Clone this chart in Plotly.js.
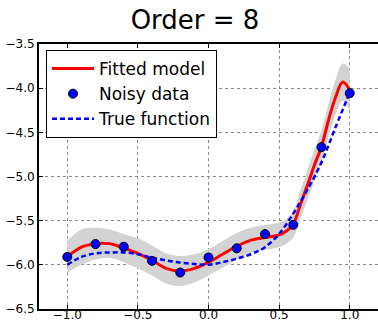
<!DOCTYPE html>
<html>
<head>
<meta charset="utf-8">
<script src="https://cdn.plot.ly/plotly-3.0.1.min.js"></script>
<style>html,body{margin:0;padding:0;background:#fff;}#chart{width:378px;height:324px;}</style>
</head>
<body>
<div id="chart"></div>
<script>
// Fitted model (order 8)
const fitX = [-1.0,-0.9,-0.8,-0.7,-0.6,-0.5,-0.4,-0.3,-0.2,-0.1,0.0,0.1,0.2,0.3,0.4,0.5,0.55,0.6,0.65,0.7,0.75,0.8,0.85,0.9,0.95,1.0];
const fitY = [-5.91,-5.80,-5.76,-5.76,-5.81,-5.87,-5.95,-6.04,-6.07,-6.04,-5.97,-5.88,-5.79,-5.72,-5.69,-5.66,-5.62,-5.54,-5.32,-5.10,-4.87,-4.66,-4.36,-4.10,-3.93,-4.02];
const bandHalf = [0.18,0.20,0.18,0.16,0.16,0.17,0.17,0.17,0.17,0.16,0.15,0.15,0.15,0.14,0.14,0.14,0.14,0.15,0.16,0.17,0.18,0.18,0.19,0.20,0.21,0.24];

// Noisy data
const noisyX = [-1.0,-0.8,-0.6,-0.4,-0.2,0.0,0.2,0.4,0.6,0.8,1.0];
const noisyY = [-5.91,-5.765,-5.795,-5.955,-6.087,-5.917,-5.813,-5.652,-5.547,-4.668,-4.057];

// True function
const trueX = [-1.0,-0.9,-0.8,-0.7,-0.6,-0.5,-0.4,-0.3,-0.2,-0.1,0.0,0.1,0.2,0.3,0.4,0.5,0.6,0.7,0.8,0.9,1.0];
const trueY = [-6.00,-5.91,-5.87,-5.86,-5.86,-5.88,-5.92,-5.95,-5.975,-5.99,-6.00,-5.97,-5.93,-5.88,-5.80,-5.65,-5.42,-5.15,-4.84,-4.44,-4.05];

// Axis ticks
const xTicks = [-1.0,-0.5,0.0,0.5,1.0];
const yTicks = [-6.5,-6.0,-5.5,-5.0,-4.5,-4.0,-3.5];

const titleText = 'Order = 8';

const bandUpper = fitY.map((v,i)=>v+bandHalf[i]);
const bandLower = fitY.map((v,i)=>v-bandHalf[i]);

const FONT = 'DejaVu Sans, sans-serif';

const traces = [
  {x: fitX, y: bandUpper, mode:'lines', line:{width:0, shape:'spline', color:'rgba(0,0,0,0)'}, showlegend:false, hoverinfo:'skip'},
  {x: fitX, y: bandLower, mode:'lines', line:{width:0, shape:'spline', color:'rgba(0,0,0,0)'}, fill:'tonexty', fillcolor:'#d3d3d3', showlegend:false, hoverinfo:'skip'},
  {x: fitX, y: fitY, mode:'lines', name:'Fitted model', line:{color:'#ff0000', width:3, shape:'spline'}, legendrank:1},
  {x: trueX, y: trueY, mode:'lines', name:'True function', line:{color:'#0000ff', width:2.5, dash:'5px,3px', shape:'spline'}, legendrank:3},
  {x: noisyX, y: noisyY, mode:'markers', name:'Noisy data', marker:{color:'#0000ff', size:9, line:{color:'#000', width:1}}, legendrank:2}
];

const axisCommon = {
  showgrid:true, gridcolor:'#8a8a8a', griddash:'dot', gridwidth:1,
  zeroline:false, showline:true, linecolor:'#000', linewidth:2,
  ticks:'inside', ticklen:4, tickcolor:'#000', tickwidth:1,
  tickfont:{family:FONT, size:12, color:'#000'}, automargin:false
};

const layout = {
  width:378, height:324,
  margin:{l:39, r:0, t:44, b:15, pad:0},
  paper_bgcolor:'#fff', plot_bgcolor:'#fff',
  title:{text:titleText, font:{family:FONT, size:26, color:'#000'}, x:195/378, xref:'container', xanchor:'center', y:1-20/324, yref:'container', yanchor:'middle'},
  xaxis:Object.assign({}, axisCommon, {range:[-1.2,1.2], tickvals:xTicks, tickformat:'.1f', mirror:'ticks', ticklabelstandoff:-6}),
  yaxis:Object.assign({}, axisCommon, {range:[-6.5,-3.5], tickvals:yTicks, tickformat:'.1f', mirror:false}),
  showlegend:true,
  legend:{x:7/339, y:(308.7-50)/264.7, xanchor:'left', yanchor:'top', bgcolor:'#fff', bordercolor:'#000', borderwidth:1, font:{family:FONT, size:17, color:'#000'}, traceorder:'normal', itemwidth:42}
};

Plotly.newPlot('chart', traces, layout, {displayModeBar:false, staticPlot:true});
</script>
</body>
</html>
